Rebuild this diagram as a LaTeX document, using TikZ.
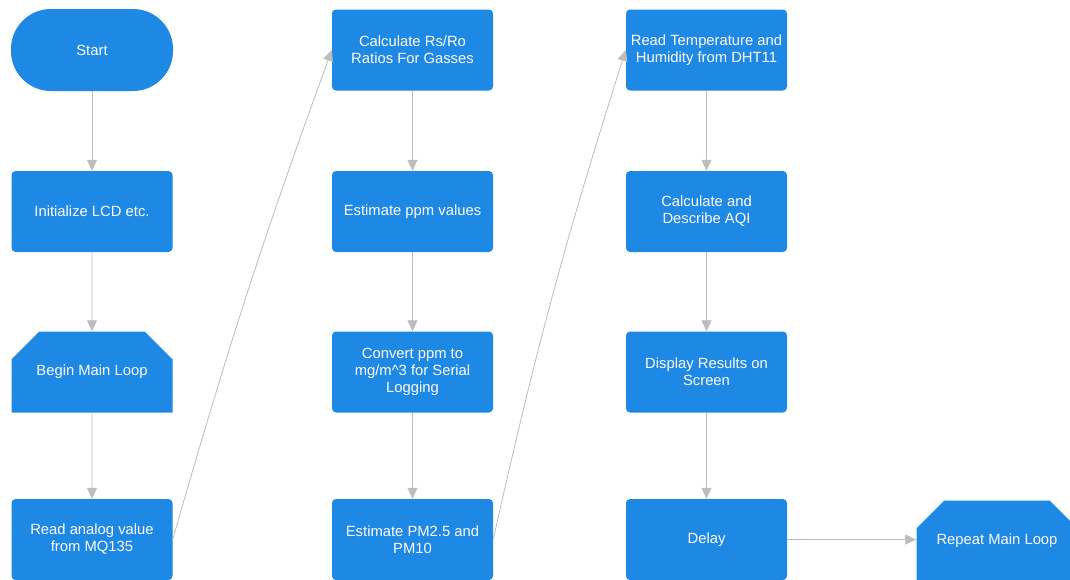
\documentclass[tikz,border=0pt]{standalone}
\usepackage{fontspec}
\setmainfont{Liberation Sans}
\usetikzlibrary{arrows.meta,shapes.misc}

\definecolor{FB}{HTML}{1E88E5}
\definecolor{LN}{HTML}{BDBDBD}

\tikzset{
  stepbox/.style={rectangle, rounded corners=4pt, fill=FB, text=white,
    minimum width=161pt, minimum height=81pt, inner sep=2pt, align=center,
    font=\fontsize{14.8}{17}\selectfont},
  terminal/.style={stepbox, rounded corners=40pt, minimum width=162pt, minimum height=82pt},
  loopbox/.style={stepbox, rounded corners=0pt, chamfered rectangle,
    chamfered rectangle corners={north west,north east},
    chamfered rectangle xsep=26pt, chamfered rectangle ysep=19pt},
  flow/.style={draw=LN, line width=0.8pt, -{Triangle[length=11pt,width=10pt,fill=LN]}}
}

\begin{document}
\begin{tikzpicture}[x=1pt, y=-1pt]
    \useasboundingbox (0,0) rectangle (1070,579);
    \node[terminal] (start) at (92, 50) {Start};
    \node[stepbox] (init) at (92, 211.5) {Initialize LCD etc.};
    \node[loopbox] (begin) at (92, 372) {Begin Main Loop};
    \node[stepbox] (read) at (92, 539.5) {Read analog value\\from MQ135};
    \node[stepbox] (ratio) at (412.5, 50) {Calculate Rs/Ro\\Ratios For Gasses};
    \node[stepbox] (ppm) at (412.5, 211.5) {Estimate ppm values};
    \node[stepbox] (conv) at (412.5, 372) {Convert ppm to\\mg/m\^{}3 for Serial\\Logging};
    \node[stepbox] (pm) at (412.5, 539.5) {Estimate PM2.5 and\\PM10};
    \node[stepbox] (dht) at (706.5, 50) {Read Temperature and\\Humidity from DHT11};
    \node[stepbox] (aqi) at (706.5, 211.5) {Calculate and\\Describe AQI};
    \node[stepbox] (show) at (706.5, 372) {Display Results on\\Screen};
    \node[stepbox] (delay) at (706.5, 539.5) {Delay};
    \node[loopbox] (repeat) at (997, 541) {Repeat Main Loop};
    \draw[flow] (start) -- (init);
    \draw[flow] (init) -- (begin);
    \draw[flow] (begin) -- (read);
    \draw[flow] (read.east) to[bend left=2] (ratio.west);
    \draw[flow] (ratio) -- (ppm);
    \draw[flow] (ppm) -- (conv);
    \draw[flow] (conv) -- (pm);
    \draw[flow] (pm.east) to[bend left=2.5] (dht.west);
    \draw[flow] (dht) -- (aqi);
    \draw[flow] (aqi) -- (show);
    \draw[flow] (show) -- (delay);
    \draw[flow] (delay.east) -- (delay.east -| repeat.west);
\end{tikzpicture}
\end{document}
